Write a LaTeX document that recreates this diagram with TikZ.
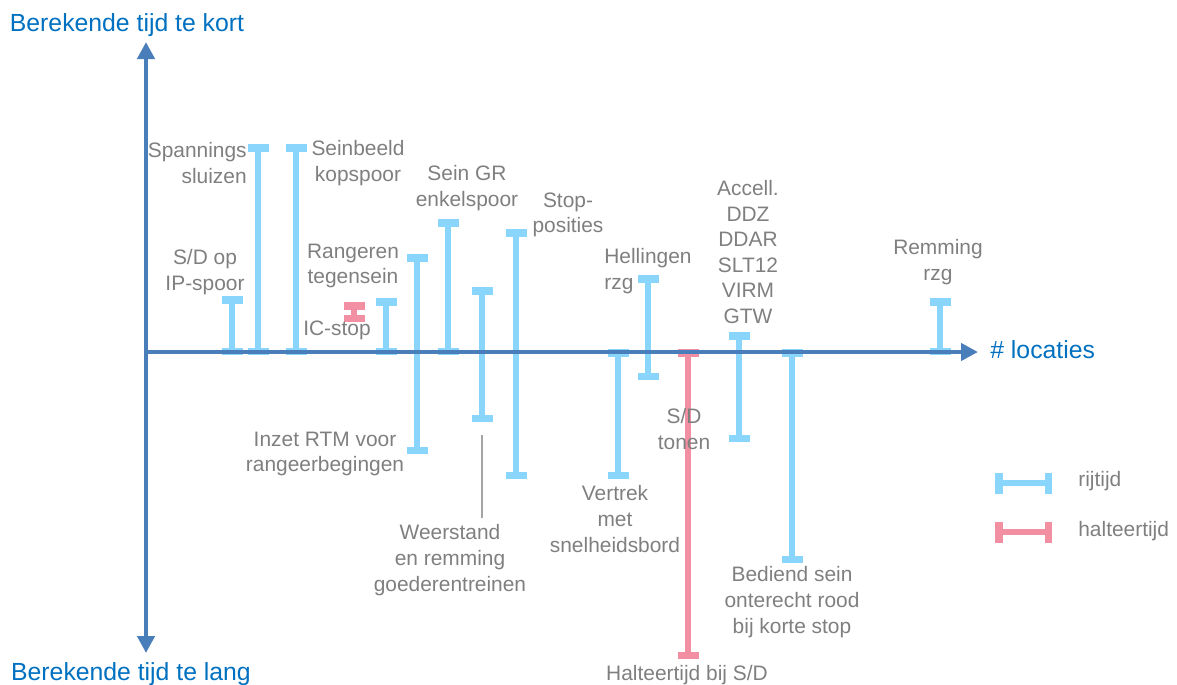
\documentclass[tikz,border=0pt]{standalone}
\usepackage{fontspec}
\setmainfont{Liberation Sans}
\usepackage{tikz}
\usetikzlibrary{arrows.meta, positioning}
\definecolor{asblauw}{RGB}{74,126,187}
\definecolor{tekstblauw}{RGB}{0,112,192}
\definecolor{tekstgrijs}{RGB}{127,127,127}
\definecolor{rijblauw}{RGB}{137,213,252}
\definecolor{halteroze}{RGB}{243,143,162}
\tikzset{
  axis/.style={
    line width=0.09cm,
    draw=asblauw,
    -{Triangle[length=0.34cm, width=0.34cm]}
  },
  axisboth/.style={
    axis,
    {Triangle[length=0.34cm, width=0.34cm]}-{Triangle[length=0.34cm, width=0.34cm]}
  },
  axistext/.style={
    text=tekstblauw,
    font=\fontsize{14.1}{17}\selectfont,
    inner sep=0pt
  },
  remark/.style={
    text=tekstgrijs,
    font=\fontsize{11.9}{14.6}\selectfont,
    align=center,
    inner sep=0pt
  },
  rijtijd/.style={
    draw=rijblauw,
    line width=0.13cm,
    {Bar[width=0.42cm, line width=0.15cm]}-{Bar[width=0.42cm, line width=0.15cm]}
  },
  halte/.style={
    rijtijd,
    draw=halteroze
  },
  leader/.style={
    draw=tekstgrijs!70,
    line width=0.6pt
  }
}

\begin{document}
\begin{tikzpicture}[x=0.02cm, y=-0.02cm]
  \useasboundingbox (0,0) rectangle (1177,684);

  % Rijtijd bars above the axis
  \draw[rijtijd] (232,355) -- (232,296);
  \draw[rijtijd] (258,355) -- (258,144);
  \draw[rijtijd] (296,355) -- (296,144);
  \draw[rijtijd] (386,355) -- (386,298);
  \draw[rijtijd] (448,355) -- (448,219);
  \draw[rijtijd] (940,355) -- (940,298);

  % Bars crossing the axis
  \draw[rijtijd] (417,254) -- (417,454);
  \coordinate (weerstandbar) at (482,422);
  \draw[rijtijd] (482,287) -- (weerstandbar);
  \draw[rijtijd] (516,229) -- (516,479);
  \draw[rijtijd] (648,275) -- (648,380);
  \draw[rijtijd] (739,332) -- (739,442);

  % Bars below the axis
  \draw[rijtijd] (618,349) -- (618,479);
  \draw[rijtijd] (792,349) -- (792,563);

  % Halteertijd
  \draw[halte] (354,302) -- (354,322);
  \draw[halte] (688,349) -- (688,659);

  % Axes
  \coordinate (origin) at (146,352);
  \coordinate (ytop) at (146,42);
  \coordinate (ybottom) at (146,653);
  \coordinate (xend) at (978,352);
  \draw[axisboth] (ybottom) -- (ytop);
  \draw[axis] (origin) -- (xend);

  \node[axistext] (kort) at (127,25) {Berekende tijd te kort};
  \node[axistext] (lang) at (131,674) {Berekende tijd te lang};
  \node[axistext, anchor=west] (locaties) at (990,350) {\# locaties};

  % Labels
  \node[remark, anchor=east, align=right] (spannings) at (247,163) {Spannings\\sluizen};
  \node[remark] (seinbeeld) at (358,163) {Seinbeeld\\kopspoor};
  \node[remark] (sdop) at (205,272) {S/D op\\IP-spoor};
  \node[remark] (rangeren) at (353,266) {Rangeren\\tegensein};
  \node[remark] (icstop) at (337,330) {IC-stop};
  \node[remark] (seingr) at (467,188) {Sein GR\\enkelspoor};
  \node[remark] (stopposities) at (568,215) {Stop-\\posities};
  \node[remark, anchor=west, align=left] (hellingen) at (604,271) {Hellingen\\rzg};
  \node[remark] (accell) at (748,252) {Accell.\\DDZ\\DDAR\\SLT12\\VIRM\\GTW};
  \node[remark] (remming) at (938,262) {Remming\\rzg};
  \node[remark] (inzet) at (325,454) {Inzet RTM voor\\rangeerbegingen};
  \node[remark] (weerstand) at (450,560) {Weerstand\\en remming\\goederentreinen};
  \node[remark] (vertrek) at (615,519) {Vertrek\\met\\snelheidsbord};
  \node[remark] (sdtonen) at (684,429) {S/D\\tonen};
  \node[remark] (bediend) at (792,602) {Bediend sein\\onterecht rood\\bij korte stop};
  \node[remark] (halteertijd) at (687,675) {Halteertijd bij S/D};

  \draw[leader, shorten <=0.12cm, shorten >=0.26cm] (weerstand.north -| weerstandbar) -- (weerstandbar);

  % Legend
  \draw[rijtijd] (995,483) -- (1052,483);
  \draw[halte] (995,532) -- (1052,532);
  \node[remark, anchor=west] (rijtijdtekst) at (1078,481) {rijtijd};
  \node[remark, anchor=west] (halteertekst) at (1078,531) {halteertijd};

\end{tikzpicture}
\end{document}
